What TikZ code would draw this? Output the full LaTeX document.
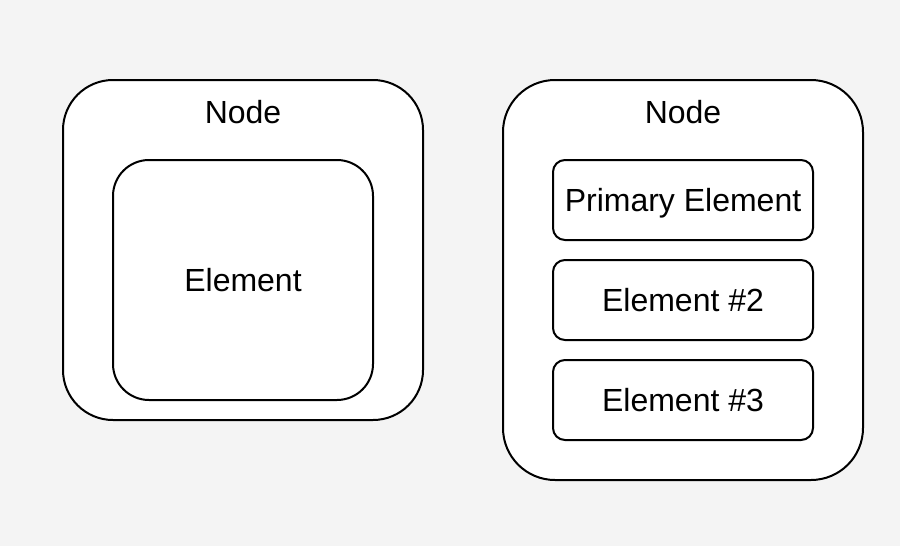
\documentclass[tikz,border=0pt]{standalone}
\usepackage{fontspec}
\setmainfont{Liberation Sans}
\definecolor{bg}{HTML}{F4F4F4}
\begin{document}
\begin{tikzpicture}[x=1pt,y=-1pt,
  box/.style={draw=black,fill=white,line width=2pt},
  lbl/.style={font=\fontsize{32}{38}\selectfont,inner sep=0pt,anchor=base}]
\fill[bg] (0,0) rectangle (900,546);
\useasboundingbox (0,0) rectangle (900,546);
% left container
\draw[box,rounded corners=50] (63,80) rectangle (423,420);
\node[lbl] (lnode) at (243,123.5) {Node};
\draw[box,rounded corners=36] (113,160) rectangle (373,400);
\node[lbl] (lelem) at (243,291.5) {Element};
% right container
\draw[box,rounded corners=52] (503,80) rectangle (863,480);
\node[lbl] (rnode) at (683,123.5) {Node};
\draw[box,rounded corners=12] (553,160) rectangle (813,240);
\node[lbl] (prim) at (683,211.5) {Primary Element};
\draw[box,rounded corners=12] (553,260) rectangle (813,340);
\node[lbl] (e2) at (683,311.5) {Element \#2};
\draw[box,rounded corners=12] (553,360) rectangle (813,440);
\node[lbl] (e3) at (683,411.5) {Element \#3};
\end{tikzpicture}
\end{document}
